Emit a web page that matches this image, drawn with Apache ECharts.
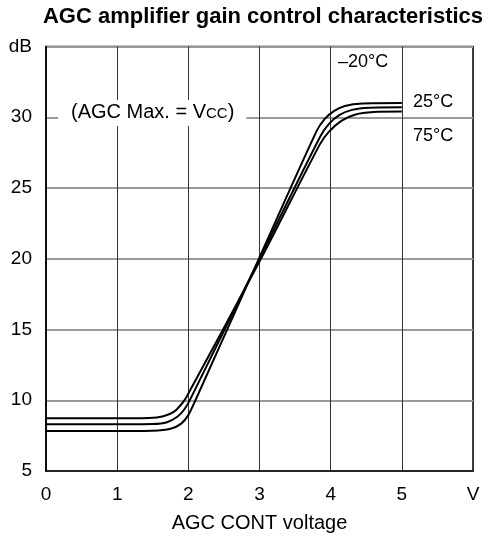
<!DOCTYPE html>
<html>
<head>
<meta charset="utf-8">
<script src="https://cdn.jsdelivr.net/npm/echarts@6/dist/echarts.min.js"></script>
<style>
html,body{margin:0;padding:0;background:#fff;}
#chart{width:492px;height:539px;}
</style>
</head>
<body>
<div id="chart"></div>
<script>
// ---- data ----
const titleText = 'AGC amplifier gain control characteristics';
const xAxisName = 'AGC CONT voltage';
const xTicks = [0, 1, 2, 3, 4, 5, 6];
const xTickLabels = ['0', '1', '2', '3', '4', '5', 'V'];
const yTicks = [5, 10, 15, 20, 25, 30, 35];
const yTickLabels = ['5', '10', '15', '20', '25', '30', 'dB'];
const seriesNames = ['-20°C', '25°C', '75°C'];
// [voltage, gain dB]
const curveMinus20 = [[0,7.82],[1,7.82],[1.5,7.84],[1.75,7.98],[1.9,8.35],[2.0,8.95],[2.1,10.0],[3,20.1],[3.8,29.0],[3.92,29.9],[4.05,30.45],[4.2,30.8],[4.45,30.97],[5,31.0]];
const curve25 = [[0,8.3],[1,8.3],[1.5,8.32],[1.7,8.45],[1.85,8.85],[1.95,9.4],[2.03,10.1],[3,20],[3.85,28.6],[3.97,29.5],[4.12,30.15],[4.3,30.52],[4.55,30.67],[5,30.7]];
const curve75 = [[0,8.72],[1,8.72],[1.45,8.74],[1.65,8.87],[1.8,9.2],[1.9,9.7],[1.97,10.2],[3,19.8],[3.85,28.1],[3.98,29.0],[4.15,29.75],[4.35,30.2],[4.6,30.37],[5,30.4]];
const curves = [curveMinus20, curve25, curve75];
const annotations = ['–20°C', '25°C', '75°C'];
const noteText = '(AGC Max. = V{s|CC})';

const font = 'Liberation Sans, Arial, Helvetica, sans-serif';
const chart = echarts.init(document.getElementById('chart'), null, {renderer: 'canvas'});

const option = {
  animation: false,
  backgroundColor: '#fff',
  title: {
    text: titleText,
    left: 258,
    top: 1,
    textAlign: 'center',
    textStyle: {fontFamily: font, fontSize: 22, fontWeight: 'bold', color: '#000'}
  },
  grid: {
    left: 46, right: 19, top: 46.5, bottom: 68,
    show: true, borderColor: '#000', borderWidth: 1.5, backgroundColor: 'transparent'
  },
  xAxis: {
    type: 'value', min: 0, max: 6, interval: 1,
    name: xAxisName, nameLocation: 'middle', nameGap: 42,
    nameTextStyle: {fontFamily: font, fontSize: 20, color: '#000'},
    axisLine: {show: true, lineStyle: {color: '#000', width: 1.5}},
    axisTick: {show: false},
    axisLabel: {
      fontFamily: font, fontSize: 19, color: '#000', margin: 14,
      formatter: v => { const i = xTicks.indexOf(v); return i >= 0 ? xTickLabels[i] : ''; }
    },
    splitLine: {show: true, lineStyle: {color: '#333', width: 1}}
  },
  yAxis: {
    type: 'value', min: 5, max: 35, interval: 5,
    axisLine: {show: true, lineStyle: {color: '#000', width: 1.5}},
    axisTick: {show: false},
    axisLabel: {
      fontFamily: font, fontSize: 19, color: '#000', margin: 14,
      formatter: v => { const i = yTicks.indexOf(v); return i >= 0 ? yTickLabels[i] : ''; }
    },
    splitLine: {show: true, lineStyle: {color: '#999', width: 2}}
  },
  series: curves.map((c, i) => ({
    name: seriesNames[i],
    type: 'line',
    data: c,
    smooth: 0.25,
    showSymbol: false,
    lineStyle: {color: '#000', width: 2},
    z: 3
  })),
  graphic: [
    {type: 'text', left: 338, top: 53, z: 10,
      style: {text: annotations[0], font: '18px ' + font, fill: '#000'}},
    {type: 'text', left: 413, top: 93, z: 10,
      style: {text: annotations[1], font: '18px ' + font, fill: '#000'}},
    {type: 'text', left: 413, top: 127, z: 10,
      style: {text: annotations[2], font: '18px ' + font, fill: '#000'}},
    {type: 'text', left: 58, top: 100, z: 10,
      style: {
        text: noteText, font: '20px ' + font, fill: '#000',
        backgroundColor: '#fff', padding: [2, 12, 4, 13],
        rich: {s: {fontSize: 15, fontFamily: font, fill: '#000', padding: [3,0,0,0]}}
      }}
  ]
};
chart.setOption(option);
</script>
</body>
</html>
